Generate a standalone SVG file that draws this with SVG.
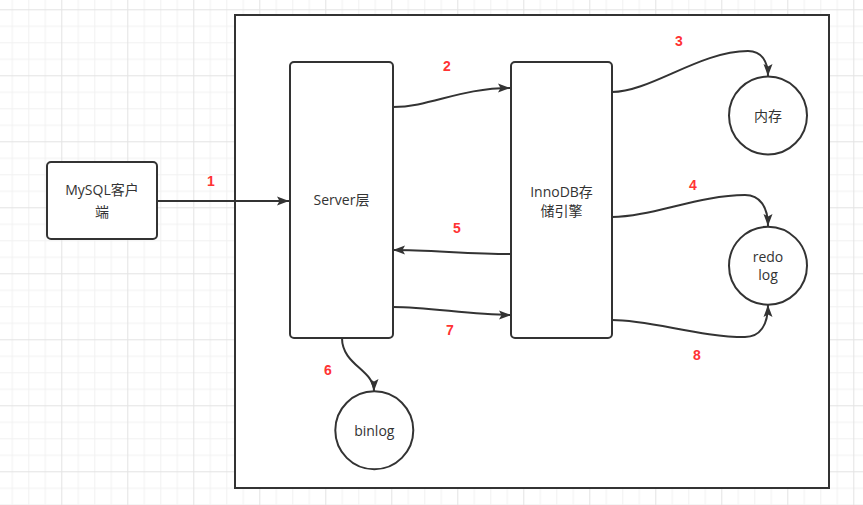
<svg xmlns="http://www.w3.org/2000/svg" width="863" height="505" viewBox="0 0 863 505">
<defs>
<pattern id="grid" patternUnits="userSpaceOnUse" x="-4.7" y="9.3" width="66" height="66">
<rect x="0" y="0" width="66" height="66" fill="#ffffff"/>
<g fill="#f1f1f1">
<rect x="16.5" y="0" width="1" height="66"/><rect x="33" y="0" width="1" height="66"/><rect x="49.5" y="0" width="1" height="66"/>
<rect x="0" y="16.5" width="66" height="1"/><rect x="0" y="33" width="66" height="1"/><rect x="0" y="49.5" width="66" height="1"/>
</g>
<g fill="#e3e3e3">
<rect x="0" y="0" width="1" height="66"/><rect x="0" y="0" width="66" height="1"/>
</g>
</pattern>
<marker id="arr" markerUnits="userSpaceOnUse" markerWidth="14" markerHeight="12" refX="12" refY="5" orient="auto" viewBox="0 0 14 12">
<path d="M0,0.5 L12,5 L0,9.5 L2.5,5 Z" fill="#333333"/>
</marker>
<style>
.node{fill:#ffffff;stroke:#333333;stroke-width:2}
.edge{fill:none;stroke:#333333;stroke-width:2;marker-end:url(#arr)}
.t{font-family:"Open Sans","Noto Sans CJK SC",sans-serif;font-size:14px;fill:#333333;text-anchor:middle}
.n{font-family:"Liberation Sans","Noto Sans CJK SC",sans-serif;font-size:14px;font-weight:bold;fill:#ff3333;text-anchor:middle}
</style>
</defs>
<rect x="0" y="0" width="863" height="505" fill="url(#grid)"/>
<g id="container"><rect x="235" y="15" width="594" height="473" fill="#ffffff" stroke="#333333" stroke-width="2"/></g>
<g id="client"><rect class="node" x="47" y="162" width="110" height="77" rx="4"/><text class="t" x="102" y="195">MySQL客户</text><text class="t" x="102" y="217">端</text></g>
<g id="server"><rect class="node" x="290" y="62" width="103" height="276" rx="4"/><text class="t" x="341.5" y="205">Server层</text></g>
<g id="innodb"><rect class="node" x="511" y="62" width="101" height="276" rx="4"/><text class="t" x="561.5" y="197">InnoDB存</text><text class="t" x="561.5" y="216">储引擎</text></g>
<g id="memory"><circle class="node" cx="768" cy="115.5" r="39"/><text class="t" x="768" y="120.5">内存</text></g>
<g id="redolog"><circle class="node" cx="768" cy="265.7" r="39"/><text class="t" x="768" y="262">redo</text><text class="t" x="768" y="280">log</text></g>
<g id="binlog"><circle class="node" cx="374.3" cy="430.3" r="39"/><text class="t" x="374.3" y="435.5">binlog</text></g>
<g id="connectors">
<path class="edge" d="M157,201 L289,201"/>
<path class="edge" d="M393,107 C430,107 460,88 510,88"/>
<path class="edge" d="M612,92 C650,92 700,51 748,51 C762,51 768,62 768,76"/>
<path class="edge" d="M612,217 C650,217 700,195 745,195 C760,195 768,207 768,226"/>
<path class="edge" d="M511,254 C470,254 430,250 393,250"/>
<path class="edge" d="M342,338 C342,365 374,370 374,391"/>
<path class="edge" d="M393,307 C430,307 470,315 511,315"/>
<path class="edge" d="M612,320 C650,320 700,337 745,337 C760,337 768,325 768,305"/>
</g>
<g id="labels">
<text class="n" x="211" y="186">1</text>
<text class="n" x="447" y="71">2</text>
<text class="n" x="679" y="46">3</text>
<text class="n" x="693" y="190">4</text>
<text class="n" x="457" y="233">5</text>
<text class="n" x="328" y="375">6</text>
<text class="n" x="450" y="335">7</text>
<text class="n" x="697" y="360">8</text>
</g>
</svg>
